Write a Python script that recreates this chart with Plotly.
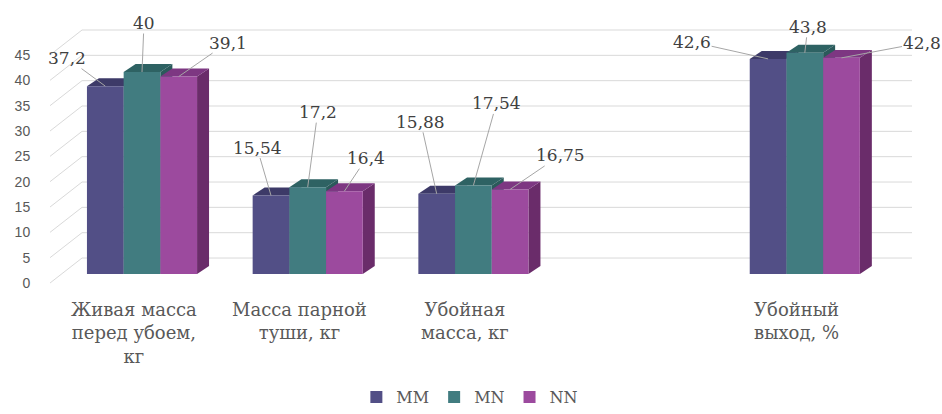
import plotly.graph_objects as go

# ---------------- data ----------------
categories = ["Живая масса<br>перед убоем,<br>кг", "Масса парной<br>туши, кг",
              "Убойная<br>масса, кг", "Убойный<br>выход, %"]
cat_slots = [0, 1, 2, 4]          # slot 3 is an empty category in the original
series_names = ["MM", "MN", "NN"]
mm_values = [37.2, 15.54, 15.88, 42.6]
mn_values = [40, 17.2, 17.54, 43.8]
nn_values = [39.1, 16.4, 16.75, 42.8]
y_ticks = [0, 5, 10, 15, 20, 25, 30, 35, 40, 45]

series_values = [mm_values, mn_values, nn_values]

# ---------------- styling ----------------
front_colors = ["#524F86", "#417C80", "#9C4A9E"]
top_colors = ["#3D3A68", "#2E6263", "#7D3782"]
side_colors = ["#3A3764", "#2B5A5B", "#6A2C6A"]
grid_color = "#D9D9D9"
label_color = "#404040"
axis_text_color = "#595959"
serif = "DejaVu Serif"

# pixel offsets (ax, ay) of data labels relative to the bar top, per series/category
label_offsets = [
    [(-38, -28), (-14, -48), (-16, -72), (-76, -17)],
    [(2, -49), (10, -75), (23, -82), (3, -26)],
    [(49, -34), (22, -33), (50, -34), (80, -15)],
]

bar_w = 0.2215          # width of one bar in slot units
depth_x = 0.0724        # 3D depth offset (x, slot units)
depth_y = 1.58          # 3D depth offset (y, value units)
wall_dy = 4.93          # back-wall offset on label axis
x_front = -0.555
x_back = -0.362
x_right = 4.647

fig = go.Figure()

for k, (name, vals) in enumerate(zip(series_names, series_values)):
    fig.add_trace(go.Bar(
        x=cat_slots, y=vals, name=name,
        marker=dict(color=front_colors[k], line=dict(width=0)),
        hoverinfo="skip",
    ))

# dummy trace so the label axis exists
fig.add_trace(go.Scatter(x=[None], y=[None], yaxis="y2", showlegend=False, hoverinfo="skip"))

shapes = []
# back-wall gridlines + slanted side-wall lines
for t in y_ticks:
    shapes.append(dict(type="line", xref="x", yref="y2", x0=x_front, y0=t, x1=x_back, y1=t + wall_dy,
                       line=dict(color=grid_color, width=1), layer="below"))
    shapes.append(dict(type="line", xref="x", yref="y2", x0=x_back, y0=t + wall_dy, x1=x_right, y1=t + wall_dy,
                       line=dict(color=grid_color, width=1), layer="below"))

# 3D faces (side + top), drawn under bar fronts
for ci, s in enumerate(cat_slots):
    for k in range(3):
        v = series_values[k][ci]
        c = s + (k - 1) * bar_w
        xl, xr = c - bar_w / 2, c + bar_w / 2
        side = (f"M {xr},0 L {xr + depth_x},{depth_y} L {xr + depth_x},{v + depth_y} "
                f"L {xr},{v} Z")
        top = (f"M {xl},{v} L {xr},{v} L {xr + depth_x},{v + depth_y} "
               f"L {xl + depth_x},{v + depth_y} Z")
        shapes.append(dict(type="path", xref="x", yref="y", path=side,
                           fillcolor=side_colors[k], line=dict(width=0), layer="between"))
        shapes.append(dict(type="path", xref="x", yref="y", path=top,
                           fillcolor=top_colors[k], line=dict(width=0), layer="between"))

annotations = []
# data labels with leader lines
for k in range(3):
    for ci, s in enumerate(cat_slots):
        v = series_values[k][ci]
        ax, ay = label_offsets[k][ci]
        annotations.append(dict(
            x=s + (k - 1) * bar_w, y=v, xref="x", yref="y",
            text=f"{v:g}".replace(".", ","),
            showarrow=True, arrowhead=0, arrowwidth=1, arrowcolor="#A6A6A6",
            ax=ax, ay=ay, standoff=0, borderpad=0,
            font=dict(family=serif, size=17, color=label_color),
        ))

# category labels
for name, s in zip(categories, cat_slots):
    annotations.append(dict(
        x=s, y=0.0102, xref="x", yref="paper", xshift=-8,
        text=name, showarrow=False, xanchor="center", yanchor="top", align="center",
        font=dict(family=serif, size=18, color=axis_text_color),
    ))

fig.update_layout(
    width=942, height=414,
    margin=dict(l=40, r=12, t=5, b=114, autoexpand=False),
    paper_bgcolor="white", plot_bgcolor="white",
    barmode="group", bargap=0.3355, bargroupgap=0,
    xaxis=dict(range=[-0.6156, 4.7556], showticklabels=False, showgrid=False,
               zeroline=False, showline=False, fixedrange=True),
    yaxis=dict(range=[-5.15, 53.27], showticklabels=False, showgrid=False,
               zeroline=False, showline=False, fixedrange=True),
    yaxis2=dict(range=[-3.355, 54.865], overlaying="y", side="left",
                tickvals=y_ticks, ticktext=[str(t) for t in y_ticks],
                showgrid=False, zeroline=False, showline=False,
                ticks="outside", ticklen=6, tickcolor="rgba(0,0,0,0)",
                tickfont=dict(family="Liberation Sans", size=14, color=axis_text_color),
                fixedrange=True),
    legend=dict(orientation="h", x=0.483, xanchor="center",
                yref="container", y=0.0, yanchor="bottom",
                font=dict(family=serif, size=16, color=axis_text_color),
                itemwidth=30, traceorder="normal", borderwidth=0),
    shapes=shapes,
    annotations=annotations,
    showlegend=True,
)

fig.write_html("out.html")
